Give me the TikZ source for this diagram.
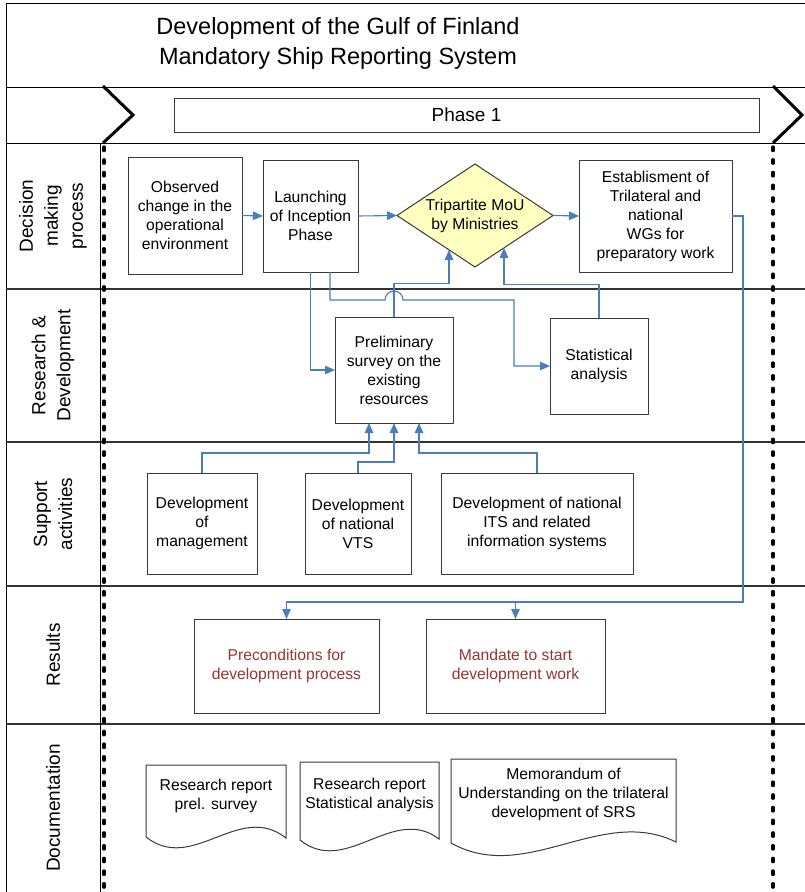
\documentclass[tikz,border=0pt]{standalone}
\usepackage{fontspec}
\setmainfont{Liberation Sans}
\usetikzlibrary{shapes.geometric,arrows.meta,calc}

\definecolor{linkblue}{HTML}{4A7EBB}
\definecolor{boxline}{HTML}{3A3A3A}
\definecolor{mouyellow}{HTML}{FFFFC0}
\definecolor{resultred}{HTML}{953735}

\begin{document}
\begin{tikzpicture}[x=1pt,y=-1pt,
  every node/.style={inner sep=0pt, outer sep=0pt},
  frameline/.style={line width=1pt, black},
  laneline/.style={line width=1.6pt, black!80},
  lanelabel/.style={rotate=90, font=\fontsize{19}{25}\selectfont, align=center},
  boxtext/.style={font=\fontsize{15.7}{19}\selectfont, align=center},
  procbox/.style={boxtext, draw=boxline, line width=1pt, fill=white},
  resultbox/.style={procbox, text=resultred},
  docshape/.style={draw=boxline, line width=1pt, fill=white},
  conn/.style={draw=linkblue, line width=1.1pt},
  arr/.style={conn, -{Triangle[length=10pt,width=8.5pt]}},
  chevron/.style={line width=3pt, line join=miter},
  phaseborder/.style={line width=3.2pt, line cap=round, dash pattern=on 3.6pt off 9.1pt},
]
\useasboundingbox (0,0) rectangle (805,892);

% ---- frame, header and swimlanes ----
\draw[frameline] (6,892) -- (6,3) -- (805,3);
\draw[frameline] (6,87) -- (805,87);
\draw[frameline] (6,143) -- (805,143);
\foreach \yy in {289,442,586,724}
  \draw[laneline] (6,\yy) -- (805,\yy);
\draw[frameline] (100,143) -- (100,892);

\node[font=\fontsize{23.5}{30}\selectfont, align=center] (title) at (338,43)
  {Development of the Gulf of Finland\\Mandatory Ship Reporting System};

% phase bar
\node[draw=boxline, line width=1pt, minimum width=585pt, minimum height=34pt,
      font=\fontsize{19}{22}\selectfont] (phase) at (466.5,115) {Phase 1};
\draw[chevron] (103,86) -- (133,115) -- (103,143);
\draw[chevron] (773,86) -- (802,115) -- (773,143);
\draw[phaseborder] (104,147) -- (104,892);
\draw[phaseborder] (773,147) -- (773,892);

% lane titles
\node[lanelabel] (laneA) at (53,216)   {Decision\\making\\process};
\node[lanelabel] (laneB) at (53,365.5) {Research \&\\Development};
\node[lanelabel] (laneC) at (53,514)   {Support\\activities};
\node[lanelabel] (laneD) at (53,655)   {Results};
\node[lanelabel] (laneE) at (53,808)   {Documentation};

% ---- decision making process ----
\node[procbox, minimum width=114pt, minimum height=117pt] (obs) at (185,215.5)
  {Observed\\change in the\\operational\\environment};
\node[procbox, minimum width=95pt, minimum height=112pt] (launch) at (310.5,216)
  {Launching\\of Inception\\Phase};
\node[diamond, draw=boxline, line width=1pt, fill=mouyellow,
      minimum width=156pt, minimum height=103pt] (dia) at (475,215.5) {};
\node[boxtext] (diatext) at (dia.center) {Tripartite MoU\\by Ministries};
\node[procbox, minimum width=153pt, minimum height=112pt] (estab) at (655.5,216)
  {Establisment of\\Trilateral and\\national\\WGs for\\preparatory work};

% ---- research & development ----
\node[procbox, minimum width=118pt, minimum height=106pt] (prelim) at (394,370)
  {Preliminary\\survey on the\\existing\\resources};
\node[procbox, minimum width=98pt, minimum height=96pt] (stat) at (599,366)
  {Statistical\\analysis};

% ---- support activities ----
\node[procbox, minimum width=110pt, minimum height=101pt] (mgmt) at (202,523.5)
  {Development\\of\\management};
\node[procbox, minimum width=106pt, minimum height=101pt] (vts) at (358,523.5)
  {Development\\of national\\VTS};
\node[procbox, minimum width=192pt, minimum height=101pt] (its) at (537,523.5)
  {Development of national\\ITS and related\\information systems};

% ---- results ----
\node[resultbox, minimum width=185pt, minimum height=94pt] (pre) at (286.5,666)
  {Preconditions for\\development process};
\node[resultbox, minimum width=179pt, minimum height=94pt] (mand) at (515.5,666)
  {Mandate to start\\development work};

% ---- documentation ----
\draw[docshape] (146,837) -- (146,765) -- (286,765) -- (286,838)
  .. controls (239,801) and (193,874) .. (146,837) -- cycle;
\node[boxtext] (doc1) at (216,796) {Research report\\prel. survey};
\draw[docshape] (300,840) -- (300,762) -- (439,762) -- (439,839)
  .. controls (393,804) and (346,877) .. (300,840) -- cycle;
\node[boxtext] (doc2) at (369.5,795) {Research report\\Statistical analysis};
\draw[docshape] (451,843) -- (451,759) -- (676,759) -- (676,842)
  .. controls (601,805) and (526,885) .. (451,843) -- cycle;
\node[boxtext] (doc3) at (563.5,794) {Memorandum of\\Understanding on the trilateral\\development of SRS};

% ---- connectors ----
\draw[arr] (obs.east) -- (launch.west);
\draw[arr] (launch.east) -- (dia.west);
\draw[arr] (dia.east) -- (estab.west);

% inception phase feeds both studies
\draw[arr] (launch.south) |- (prelim.west);
\coordinate (hop) at ($(prelim.north)+(0,-17)$);
\draw[arr] ($(launch.south)+(19.5,0)$) |- ($(hop)+(-9,0)$)
  arc[start angle=180, end angle=0, radius=9pt] -- ($(hop)+(120,0)$) |- (stat.west);

% studies feed the MoU
\coordinate (diaL) at ($(dia.south)!0.333!(dia.west)$);
\coordinate (diaR) at ($(dia.south)!0.372!(dia.east)$);
\draw[arr] (prelim.north) |- ($(diaL)+(0,33.5)$) -- (diaL);
\draw[arr] (stat.north) |- ($(diaR)+(0,37)$) -- (diaR);

% support activities feed the survey
\draw[arr] (mgmt.north) |- ($(prelim.south)+(-25,30)$) -- ($(prelim.south)+(-25,0)$);
\draw[arr] (vts.north) |- ($(prelim.south)+(0,39)$) -- (prelim.south);
\draw[arr] (its.north) |- ($(prelim.south)+(25,30)$) -- ($(prelim.south)+(25,0)$);

% working groups lead to the results
\coordinate (bus) at (743,602);
\draw[arr] (estab.east) -| (bus) -| (pre.north);
\draw[arr] (mand.north |- bus) -- (mand.north);
\end{tikzpicture}
\end{document}
